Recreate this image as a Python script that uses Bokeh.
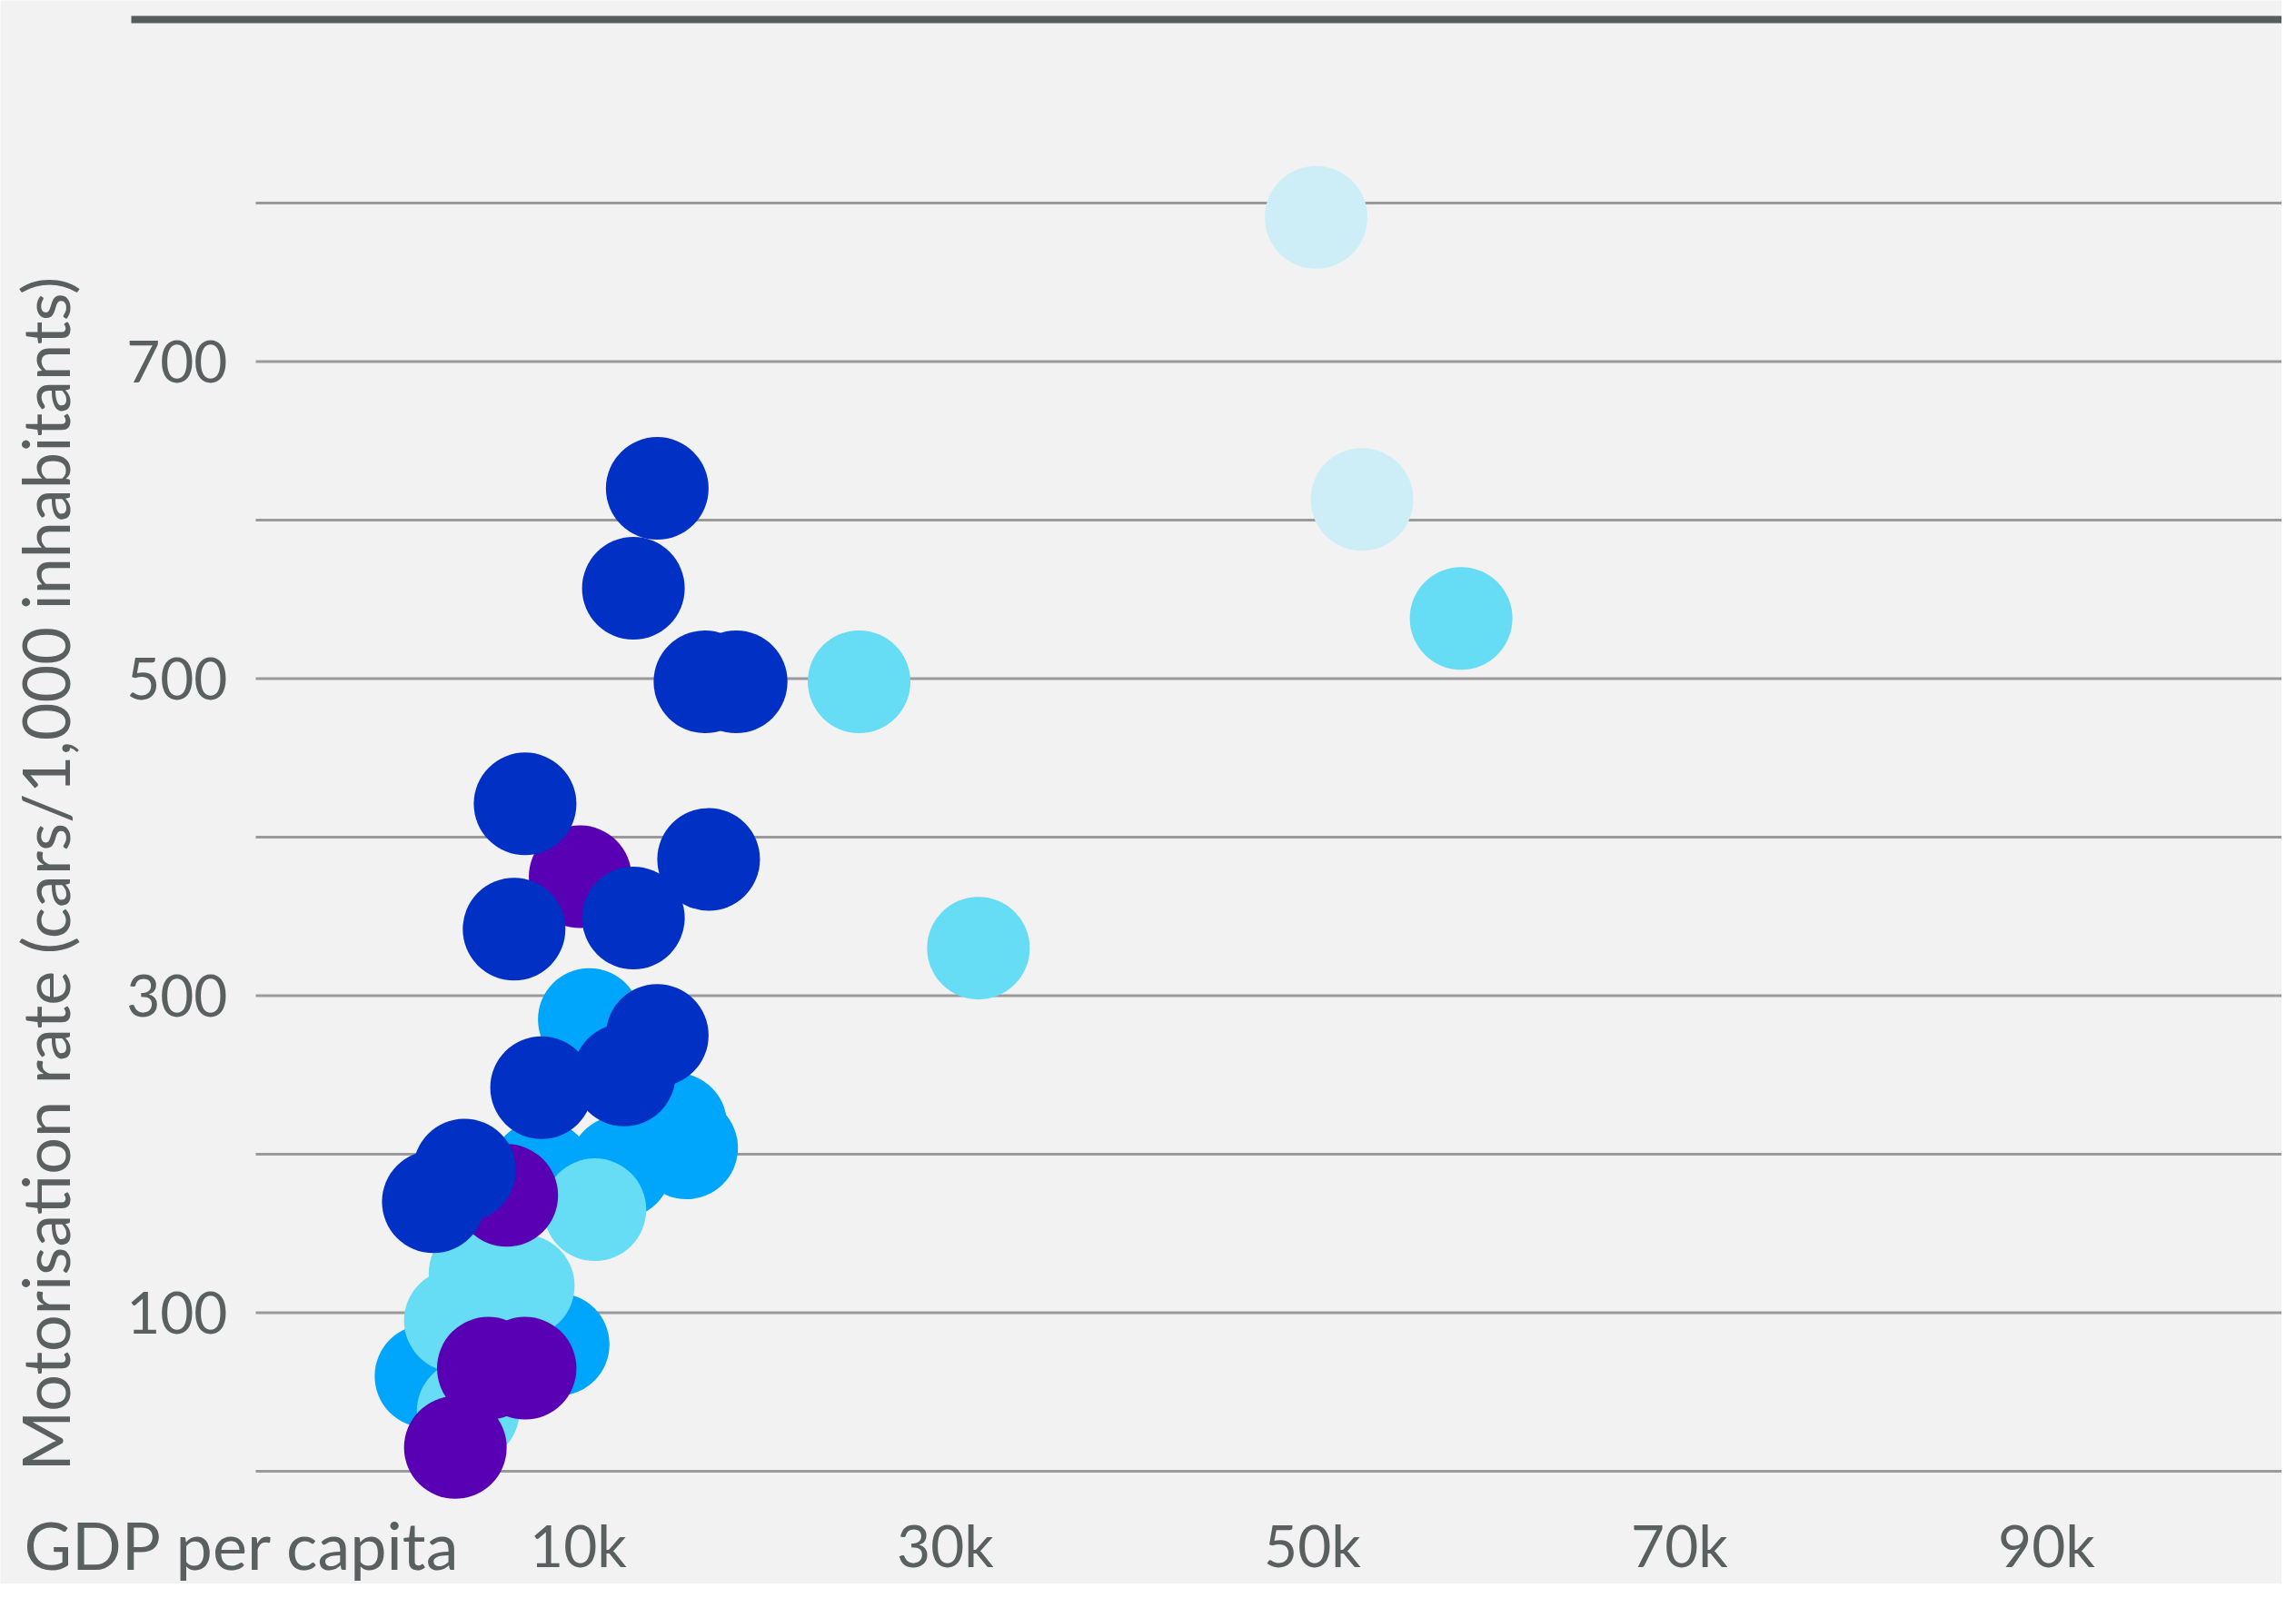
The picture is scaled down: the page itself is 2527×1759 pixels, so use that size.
import math
from bokeh.plotting import figure
from bokeh.models import Range1d, FixedTicker, Label, BoxAnnotation
from bokeh.embed import file_html
from bokeh.resources import INLINE

# ---------------- data (GDP per capita in US$, cars per 1,000 inhabitants) ----------------
dark_gdp = [14300, 13000, 16900, 18600, 7100, 17100, 6500, 13000, 14300, 12500, 8000, 3800, 2100]
dark_mot = [620, 557, 498, 498, 421, 386, 342, 349, 275, 250, 242, 190, 170]
purple_gdp = [10100, 6100, 5100, 7100, 3300]
purple_mot = [375, 174, 65, 65, 15]
blue_gdp = [10600, 15900, 15300, 12300, 8000, 8900, 1700]
blue_mot = [285, 204, 219, 192, 189, 80, 60]
cyan_gdp = [25300, 31800, 58100, 10900, 4650, 7000, 3300, 4000]
cyan_mot = [498, 330, 538, 165, 125, 117, 95, 38]
pale_gdp = [50200, 52700]
pale_mot = [791, 613]

x_ticks = [10000, 30000, 50000, 70000, 90000]
x_tick_labels = ["10k", "30k", "50k", "70k", "90k"]
y_ticks = [0, 100, 200, 300, 400, 500, 600, 700, 800]
y_tick_labels = ["", "100", "", "300", "", "500", "", "700", ""]

x_title = "GDP per capita"
y_title = "Motorisation rate (cars/1,000 inhabitants)"

# ---------------- layout / styling ----------------
BG = "#f2f2f2"
TXT = "#5a5f5f"
FONT = "Lato"
W, H = 2511, 1743
# the plotting frame covers the whole figure; scale: 20.2 px per 1k US$, 1.745 px per car
X_ZERO_PX, X_PX_PER_UNIT = 434.0, 0.0202
Y_ZERO_PX, Y_PX_PER_UNIT = 1619.0, 1.745
X0 = -X_ZERO_PX / X_PX_PER_UNIT
X1 = (W - X_ZERO_PX) / X_PX_PER_UNIT
Y1 = Y_ZERO_PX / Y_PX_PER_UNIT
Y0 = (Y_ZERO_PX - H) / Y_PX_PER_UNIT


def fx(px):
    return X0 + px / W * (X1 - X0)


def fy(py):
    return Y1 - py / H * (Y1 - Y0)


p = figure(width=W, height=H, output_backend="svg", toolbar_location=None,
           x_range=Range1d(X0, X1), y_range=Range1d(Y0, Y1))
p.min_border = 0
p.min_border_left = 0
p.min_border_right = 0
p.min_border_top = 0
p.min_border_bottom = 0
p.background_fill_color = BG
p.border_fill_color = BG
p.outline_line_color = None
p.xgrid.visible = False
p.ygrid.visible = False

# axes (drawn inside the frame at fixed locations)
p.xaxis.ticker = FixedTicker(ticks=x_ticks)
p.xaxis.major_label_overrides = dict(zip(x_ticks, x_tick_labels))
p.yaxis.ticker = FixedTicker(ticks=y_ticks)
p.yaxis.major_label_overrides = dict(zip(y_ticks, y_tick_labels))
for ax in (p.xaxis[0], p.yaxis[0]):
    ax.axis_line_color = None
    ax.major_tick_line_color = None
    ax.minor_tick_line_color = None
    ax.major_tick_out = 0
    ax.major_tick_in = 0
    ax.major_label_text_font = FONT
    ax.major_label_text_color = TXT
    ax.major_label_text_font_size = "64px"
p.yaxis.fixed_location = fx(281)
p.yaxis.major_label_standoff = 31
p.xaxis.fixed_location = fy(1660)
p.xaxis.major_label_standoff = 1

# horizontal grid lines at the y ticks
p.segment(x0=fx(281), x1=fx(2514), y0=y_ticks, y1=y_ticks,
          line_color="#9a9a9a", line_width=3)

# points (drawn back to front)
groups = [
    (blue_gdp, blue_mot, "#00a6fb"),
    (pale_gdp, pale_mot, "#cdeef7"),
    (cyan_gdp, cyan_mot, "#67dcf5"),
    (purple_gdp, purple_mot, "#5a00b4"),
    (dark_gdp, dark_mot, "#0031c4"),
]
for gx, gy, col in groups:
    p.scatter(gx, gy, size=113, fill_color=col, line_color=None)

# dark rule across the top
p.add_layout(BoxAnnotation(left=fx(144), right=fx(W + 50), top=fy(17), bottom=fy(25),
                           fill_color="#565c5c", fill_alpha=1, line_color=None))

# titles
p.add_layout(Label(x=fx(48), y=0, text=y_title, angle=math.pi / 2,
                   text_align="left", text_baseline="alphabetic",
                   text_font=FONT, text_font_size="72px", text_color=TXT))
p.add_layout(Label(x=fx(26), y=fy(1699), text=x_title,
                   text_align="left", text_baseline="alphabetic",
                   text_font=FONT, text_font_size="72px", text_color=TXT))

open("out.html", "w").write(file_html(p, INLINE))
